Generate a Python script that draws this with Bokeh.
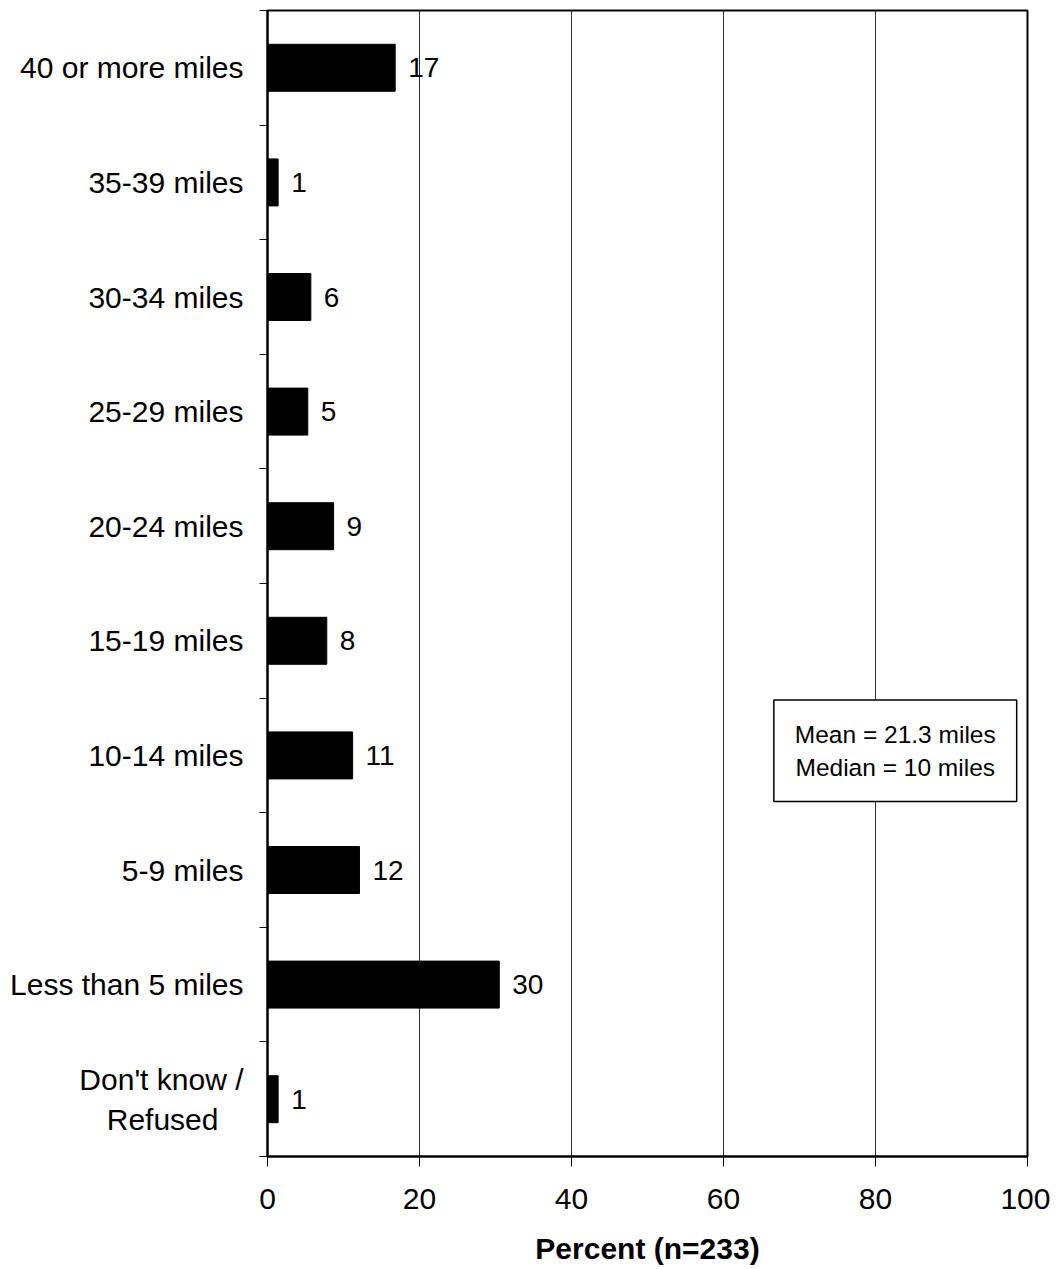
from bokeh.plotting import figure
from bokeh.models import Range1d, FixedTicker, Label, ColumnDataSource
from bokeh.core.properties import value
from bokeh.embed import file_html
from bokeh.resources import INLINE

# Data (bottom to top)
categories = ["Don't know /\nRefused\u00a0\u00a0\u00a0", "Less than 5 miles", "5-9 miles", "10-14 miles",
              "15-19 miles", "20-24 miles", "25-29 miles", "30-34 miles",
              "35-39 miles", "40 or more miles"]
percents = [1.4, 30.5, 12.1, 11.2, 7.8, 8.7, 5.3, 5.7, 1.4, 16.8]
bar_labels = ["1", "30", "12", "11", "8", "9", "5", "6", "1", "17"]
x_ticks = [0, 20, 40, 60, 80, 100]
grid_ticks = [20, 40, 60, 80]
stats_text = "Mean = 21.3 miles\nMedian = 10 miles"
x_title = "Percent (n=233)"

FONT = "Liberation Sans"

n = len(categories)
centers = [i + 0.5 for i in range(n)]
bounds = [float(i) for i in range(n + 1)]

src = ColumnDataSource(dict(y=centers, x=percents, lab=bar_labels))

p = figure(width=1050, height=1267, output_backend="svg", toolbar_location=None,
           x_range=Range1d(0, 100), y_range=Range1d(0, n),
           min_border_left=267, min_border_right=23, min_border_top=10, min_border_bottom=10)

p.hbar(y="y", right="x", left=0, height=0.41, source=src, fill_color="black", line_color="black")
p.text(x="x", y="y", text="lab", source=src, x_offset=13, text_align="left", text_baseline="middle",
       text_font=value(FONT), text_font_size="28px", text_color="black")

# stats box
lbl = Label(x=82.6, y=3.54, text=stats_text, text_align="center", text_baseline="middle",
            text_font=FONT, text_font_size="24.5px", text_color="black",
            border_line_color="black", border_line_width=1.5, background_fill_color="white",
            padding=21)
p.add_layout(lbl)

# x axis
xa = p.xaxis[0]
xa.ticker = FixedTicker(ticks=x_ticks, minor_ticks=[])
xa.major_tick_out = 10
xa.major_tick_in = 0
xa.minor_tick_out = 0
xa.minor_tick_in = 0
xa.major_tick_line_color = "black"
xa.axis_line_color = "black"
xa.axis_line_width = 2
xa.major_label_text_font = FONT
xa.major_label_text_font_size = "30px"
xa.major_label_text_color = "black"
xa.major_label_standoff = 22
xa.axis_label = x_title
xa.axis_label_text_font = FONT
xa.axis_label_text_font_size = "30px"
xa.axis_label_text_font_style = "bold"
xa.axis_label_text_color = "black"
xa.axis_label_standoff = 20

# y axis
ya = p.yaxis[0]
ya.ticker = FixedTicker(ticks=centers, minor_ticks=bounds)
ya.major_label_overrides = {c: lab for c, lab in zip(centers, categories)}
ya.major_tick_out = 0
ya.major_tick_in = 0
ya.major_tick_line_color = None
ya.minor_tick_out = 8
ya.minor_tick_in = 0
ya.minor_tick_line_color = "black"
ya.axis_line_color = "black"
ya.axis_line_width = 2
ya.major_label_text_font = FONT
ya.major_label_text_font_size = "30px"
ya.major_label_text_color = "black"
ya.major_label_standoff = 16

p.xgrid.ticker = FixedTicker(ticks=grid_ticks, minor_ticks=[])
p.xgrid.grid_line_color = "#303030"
p.xgrid.grid_line_width = 1
p.ygrid.visible = False

p.outline_line_color = "black"
p.outline_line_width = 2
p.background_fill_color = "white"
p.border_fill_color = "white"

open("out.html", "w").write(file_html(p, INLINE))
